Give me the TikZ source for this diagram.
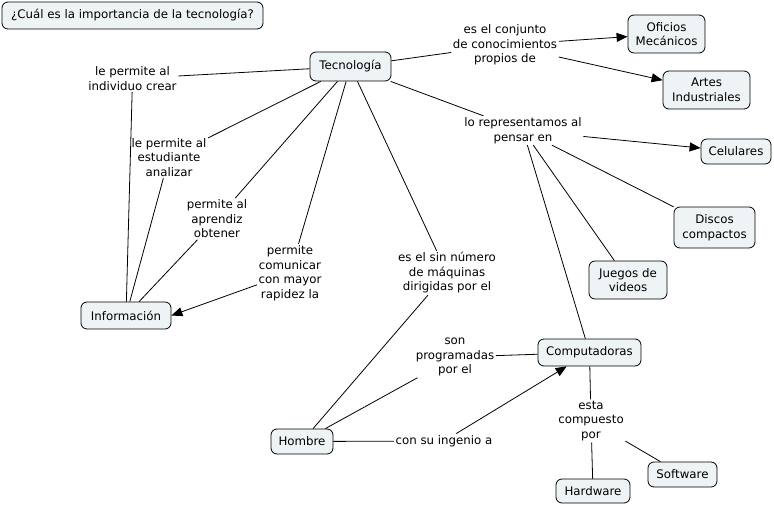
\documentclass[tikz,border=0pt]{standalone}
\usepackage{fontspec}
\setmainfont{DejaVu Sans}
\usetikzlibrary{arrows.meta}
\definecolor{cfill}{HTML}{EEF3F6}
\newcommand{\cmapfont}{\fontsize{11.8}{14.5}\selectfont}
\begin{document}
\begin{tikzpicture}[x=1pt,y=-1pt,
  concept/.style={draw=black,line width=0.8pt,fill=cfill,rounded corners=6pt,inner sep=0pt,align=center,font=\cmapfont},
  lbl/.style={inner sep=1.5pt,align=center,font=\cmapfont},
  conn/.style={line width=0.8pt,draw=black},
  arr/.style={conn,-{Triangle[length=11pt,width=9pt]}}]
\useasboundingbox (0,0) rectangle (774,506);
% concepts
\node[concept,minimum width=261pt,minimum height=27pt] (title) at (132.5,15.5) {¿Cuál es la importancia de la tecnología?};
\node[concept,minimum width=81pt,minimum height=29pt] (tec) at (350.5,66.5) {Tecnología};
\node[concept,minimum width=77pt,minimum height=38pt] (ofi) at (666.5,34) {Oficios\\Mecánicos};
\node[concept,minimum width=87pt,minimum height=38pt] (artes) at (706.5,90) {Artes\\Industriales};
\node[concept,minimum width=70pt,minimum height=25pt] (cel) at (736,151.5) {Celulares};
\node[concept,minimum width=81pt,minimum height=41pt] (disc) at (714.5,227.5) {Discos\\compactos};
\node[concept,minimum width=78pt,minimum height=38pt] (jue) at (628,280) {Juegos de\\videos};
\node[concept,minimum width=103pt,minimum height=27pt] (comp) at (589.5,352.5) {Computadoras};
\node[concept,minimum width=62pt,minimum height=25pt] (hom) at (302,441.5) {Hombre};
\node[concept,minimum width=74pt,minimum height=24pt] (hard) at (593,491) {Hardware};
\node[concept,minimum width=69pt,minimum height=25pt] (soft) at (682.5,474.5) {Software};
\node[concept,minimum width=90pt,minimum height=27pt] (info) at (126,315.5) {Información};
% linking phrases
\node[lbl] (lconj) at (505,45) {es el conjunto\\de conocimientos\\propios de};
\node[lbl] (lrepr) at (523,130.5) {lo representamos al\\pensar en};
\node[lbl] (lind) at (132.5,78.5) {le permite al\\individuo crear};
\node[lbl] (lest) at (169,157.5) {le permite al\\estudiante\\analizar};
\node[lbl] (lapr) at (217,219) {permite al\\aprendiz\\obtener};
\node[lbl] (lcom) at (290,273) {permite\\comunicar\\con mayor\\rapidez la};
\node[lbl] (ldir) at (447,273) {es el sin número\\de máquinas\\dirigidas por el};
\node[lbl] (lprog) at (455,357) {son\\programadas\\por el};
\node[lbl] (ling) at (444,441) {con su ingenio a};
\node[lbl] (lcompu) at (591,421) {esta\\compuesto\\por};
% connectors
\draw[conn] (tec) -- (lconj);
\draw[arr] (lconj) -- (ofi);
\draw[arr] (lconj) -- (artes);
\draw[conn] (tec) -- (lrepr);
\draw[arr] (lrepr) -- (cel);
\draw[conn] (lrepr) -- (disc);
\draw[conn] (lrepr) -- (jue);
\draw[conn] (lrepr) -- (comp);
\draw[conn] (tec) -- (lind);
\draw[conn] (lind) -- (info);
\draw[conn] (tec) -- (lest);
\draw[conn] (lest) -- (info);
\draw[conn] (tec) -- (lapr);
\draw[conn] (lapr) -- (info);
\draw[conn] (tec) -- (lcom);
\draw[arr] (lcom) -- (info.east);
\draw[conn] (tec) -- (ldir);
\draw[conn] (ldir) -- (hom);
\draw[conn] (hom) -- (lprog);
\draw[conn] (lprog) -- (comp);
\draw[conn] (hom) -- (ling);
\draw[arr] (ling) -- (comp);
\draw[conn] (comp) -- (lcompu);
\draw[conn] (lcompu) -- (hard);
\draw[conn] (lcompu) -- (soft);
\end{tikzpicture}
\end{document}
